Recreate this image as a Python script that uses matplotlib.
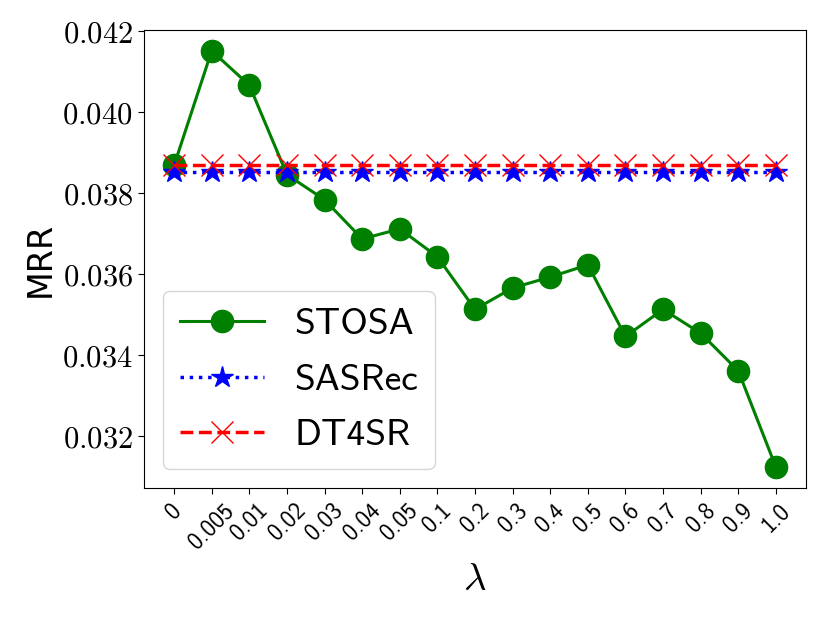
import matplotlib
matplotlib.use("Agg")
import matplotlib.pyplot as plt

plt.rcParams['mathtext.fontset'] = 'cm'

lambdas = ["0", "0.005", "0.01", "0.02", "0.03", "0.04", "0.05", "0.1", "0.2",
           "0.3", "0.4", "0.5", "0.6", "0.7", "0.8", "0.9", "1.0"]
stosa = [0.03869, 0.04152, 0.04067, 0.03846, 0.03784, 0.03687, 0.03712, 0.03643,
         0.03513, 0.03566, 0.03593, 0.03623, 0.03446, 0.03513, 0.03454, 0.03361, 0.03123]
sasrec = [0.03852] * len(lambdas)
dt4sr = [0.03870] * len(lambdas)
yticks = [0.032, 0.034, 0.036, 0.038, 0.040, 0.042]

fig = plt.figure(figsize=(8.3, 6.23), dpi=100)
ax = fig.add_axes([144/830, 1-488/623, (806-144)/830, (488-30)/623])
x = list(range(len(lambdas)))
ax.plot(x, stosa, color='green', linestyle='-', marker='o', markersize=16, linewidth=2.2,
        label='STOSA')
ax.plot(x, sasrec, color='blue', linestyle=':', marker='*', markersize=16, linewidth=2.5,
        label='SASRec')
ax.plot(x, dt4sr, color='red', linestyle='--', marker='x', markersize=16, linewidth=2.5,
        label='DT4SR')

ax.set_xticks(x)
ax.set_xticklabels(lambdas, rotation=45, fontsize=17, fontname='cmss10')
ax.set_yticks(yticks)
ax.set_yticklabels([r'$%.3f$' % v for v in yticks], fontsize=22)
ax.tick_params(axis='both', length=4.5)
ax.set_xlabel(r'$\lambda$', fontsize=28, labelpad=5)
ax.set_ylabel('MRR', fontsize=24)
ax.legend(loc='lower left', prop={'family': 'cmss10', 'size': 27}, handlelength=2.25,
          labelspacing=0.6, borderpad=0.45)

fig.savefig('out.png', dpi=100)
